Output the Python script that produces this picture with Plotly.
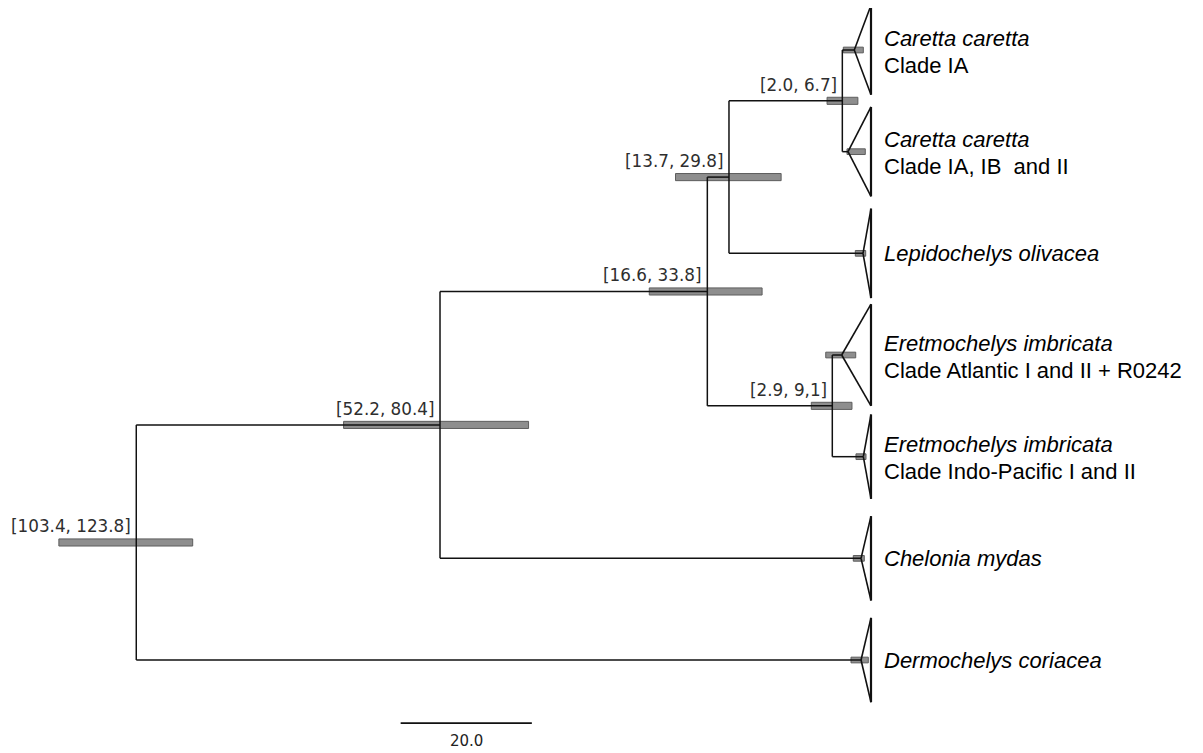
import plotly.graph_objects as go

# ---------------- data ----------------
tip_line1 = [
    "<i>Caretta caretta</i>",
    "<i>Caretta caretta</i>",
    "<i>Lepidochelys olivacea</i>",
    "<i>Eretmochelys imbricata</i>",
    "<i>Eretmochelys imbricata</i>",
    "<i>Chelonia mydas</i>",
    "<i>Dermochelys coriacea</i>",
]
tip_line2 = [
    "Clade IA",
    "Clade IA, IB  and II",
    "",
    "Clade Atlantic I and II + R0242",
    "Clade Indo-Pacific I and II",
    "",
    "",
]
tip_ids = ["t0", "t1", "t2", "t3", "t4", "t5", "t6"]
crown_age = [2.55, 3.5, 1.22, 4.47, 1.17, 1.52, 1.52]
crown_hpd_lo = [1.17, 0.87, 0.81, 2.33, 0.76, 1.02, 0.41]
crown_hpd_hi = [4.22, 3.66, 2.39, 6.9, 2.29, 2.7, 3.05]
clade_half = [0.44, 0.44, 0.44, 0.5, 0.415, 0.415, 0.415]

node_ids = ["caretta", "carlep", "eret", "cheloniini", "cheloniidae", "root"]
node_child1 = ["t0", "caretta", "t3", "carlep", "cheloniini", "cheloniidae"]
node_child2 = ["t1", "t2", "t4", "eret", "t5", "t6"]
node_age = [4.37, 21.65, 5.9, 24.95, 65.7, 112.0]
node_hpd_lo = [2.0, 13.7, 2.9, 16.6, 52.2, 103.4]
node_hpd_hi = [6.7, 29.8, 9.1, 33.8, 80.4, 123.8]
node_label = ["[2.0, 6.7]", "[13.7, 29.8]", "[2.9, 9,1]", "[16.6, 33.8]",
              "[52.2, 80.4]", "[103.4, 123.8]"]

scale_start = 71.7
scale_len = 20.0
scale_label = "20.0"

# ---------------- layout of tree ----------------
ypos = {}
agepos = {}
for i, t in enumerate(tip_ids):
    ypos[t] = float(i)
    agepos[t] = crown_age[i]
for n, c1, c2, a in zip(node_ids, node_child1, node_child2, node_age):
    ypos[n] = (ypos[c1] + ypos[c2]) / 2
    agepos[n] = a

LINE = "#111111"
BAR_FILL = "#8e8e8e"
BAR_EDGE = "#5e5e5e"
fig = go.Figure()

# HPD bars (under the branches)
fig.add_trace(go.Bar(
    orientation="h",
    y=[ypos[n] for n in node_ids],
    base=node_hpd_lo,
    x=[h - l for l, h in zip(node_hpd_lo, node_hpd_hi)],
    width=0.07,
    marker=dict(color=BAR_FILL, line=dict(color=BAR_EDGE, width=1)),
    showlegend=False, hoverinfo="skip",
))
fig.add_trace(go.Bar(
    orientation="h",
    y=[ypos[t] for t in tip_ids],
    base=crown_hpd_lo,
    x=[h - l for l, h in zip(crown_hpd_lo, crown_hpd_hi)],
    width=0.056,
    marker=dict(color=BAR_FILL, line=dict(color=BAR_EDGE, width=1)),
    showlegend=False, hoverinfo="skip",
))

# branches
bx, by = [], []
for n, c1, c2 in zip(node_ids, node_child1, node_child2):
    a = agepos[n]
    bx += [a, a, None]
    by += [ypos[c1], ypos[c2], None]
    for c in (c1, c2):
        bx += [a, agepos[c], None]
        by += [ypos[c], ypos[c], None]
fig.add_trace(go.Scatter(x=bx, y=by, mode="lines",
                         line=dict(color=LINE, width=1.5),
                         showlegend=False, hoverinfo="skip"))

# collapsed clade triangles
tx, ty, ex, ey = [], [], [], []
for i, t in enumerate(tip_ids):
    y = ypos[t]
    h = clade_half[i]
    tx += [crown_age[i], 0, None, crown_age[i], 0, None]
    ty += [y, y - h, None, y, y + h, None]
    ex += [0, 0, None]
    ey += [y - h, y + h, None]
fig.add_trace(go.Scatter(x=tx, y=ty, mode="lines",
                         line=dict(color=LINE, width=1.6),
                         showlegend=False, hoverinfo="skip"))
fig.add_trace(go.Scatter(x=ex, y=ey, mode="lines",
                         line=dict(color=LINE, width=2.2),
                         showlegend=False, hoverinfo="skip"))

# scale bar
fig.add_trace(go.Scatter(x=[scale_start, scale_start - scale_len], y=[6.62, 6.62],
                         mode="lines", line=dict(color=LINE, width=1.8),
                         showlegend=False, hoverinfo="skip"))
fig.add_annotation(x=scale_start - scale_len / 2, y=6.80, text=scale_label,
                   showarrow=False, xanchor="center", yanchor="middle",
                   font=dict(family="DejaVu Sans", size=15, color="#222222"))

# node labels
for n, lab in zip(node_ids, node_label):
    fig.add_annotation(x=agepos[n], y=ypos[n], text=lab, showarrow=False,
                       xanchor="right", yanchor="middle", xshift=-3, yshift=16,
                       font=dict(family="DejaVu Sans", size=16.8, color="#2e2e2e"))

# tip labels (one annotation per line for tighter line spacing)
TIP_FONT = dict(family="Liberation Sans, Arial", size=22, color="#000000")
for i, t in enumerate(tip_ids):
    two = tip_line2[i] != ""
    fig.add_annotation(x=0, y=ypos[t], text=tip_line1[i], showarrow=False,
                       xanchor="left", yanchor="middle", xshift=11,
                       yshift=12 if two else 0, font=TIP_FONT)
    if two:
        fig.add_annotation(x=0, y=ypos[t], text=tip_line2[i], showarrow=False,
                           xanchor="left", yanchor="middle", xshift=11,
                           yshift=-15, font=TIP_FONT)

# pixel mapping: the page body has an 8px margin, so the figure starts at (8, 8)
S = 6.56        # pixels per Myr
T = 871         # pixel of age 0
PX_TIP = 101.67 # pixels between tips
Y0 = 50         # pixel of first tip
OFF = 8
W, H = 1203 - OFF, 753 - OFF
fig.update_layout(
    width=W, height=H, autosize=False,
    margin=dict(l=0, r=0, t=0, b=0),
    paper_bgcolor="white", plot_bgcolor="white",
    barmode="overlay",
    xaxis=dict(visible=False, range=[(T - OFF) / S, (T - 1203) / S]),
    yaxis=dict(visible=False, range=[(753 - Y0) / PX_TIP, (OFF - Y0) / PX_TIP]),
)

fig.write_html("out.html")
